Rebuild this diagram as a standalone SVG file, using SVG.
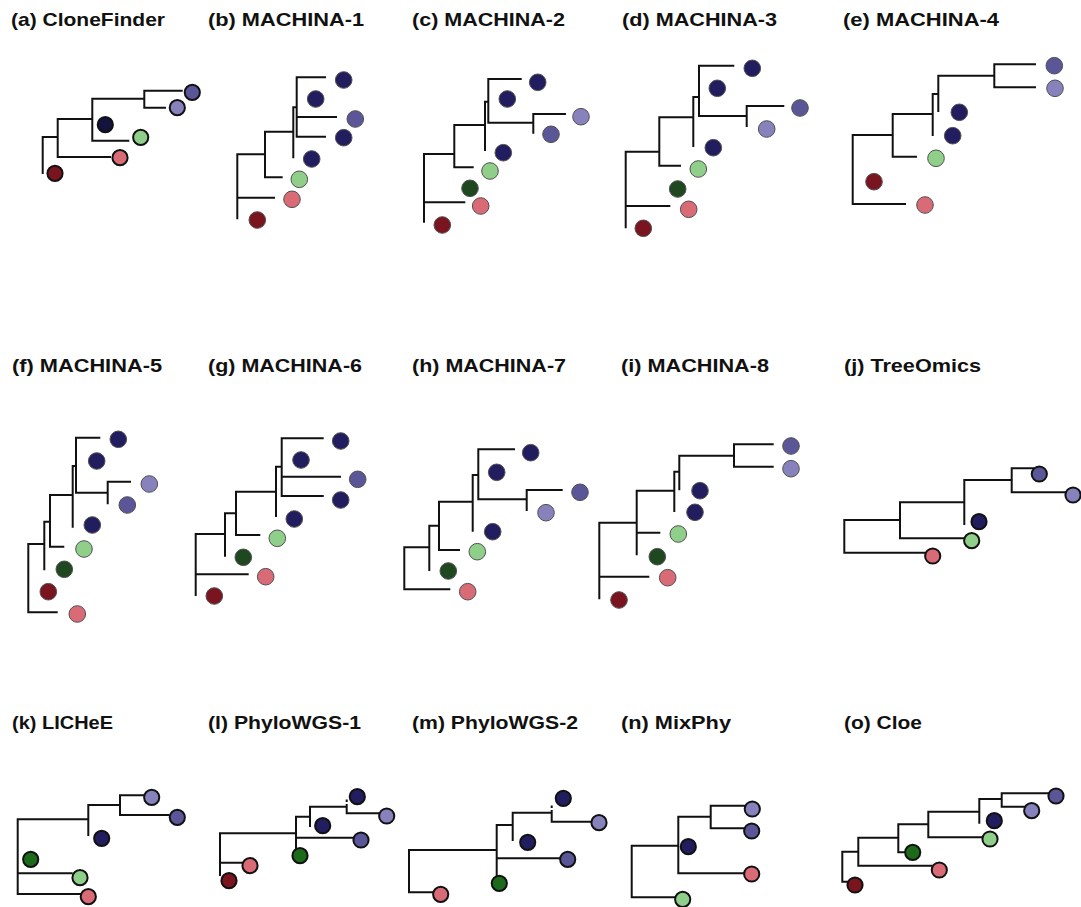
<svg xmlns="http://www.w3.org/2000/svg" width="1081" height="907" viewBox="0 0 1081 907">
<style>
  .t{font-family:"Liberation Sans",Arial,sans-serif;font-weight:bold;font-size:19px;fill:#111}
  .e{fill:none;stroke:#111;stroke-width:2;stroke-linecap:square}
  .thin circle{stroke:#505050;stroke-width:1}
  .thick circle{stroke:#111;stroke-width:2}
  .nv{fill:#221d5e}.mp{fill:#5b5698}.lp{fill:#8882bc}.lg{fill:#8fcf8a}
  .dg{fill:#1f4820}.dg2{fill:#1e6a1b}.pk{fill:#d86b75}.dr{fill:#7a1520}
  .thin circle{r:8.3px}.thick circle{r:7.6px}
</style>
<rect width="1081" height="907" fill="#fff"/>

<!-- (a) CloneFinder -->
<g id="panel-a" class="thick">
  <text class="t" x="11" y="26" textLength="154" lengthAdjust="spacingAndGlyphs">(a) CloneFinder</text>
  <g id="a-edges"><path class="e" d="M42.7 173V137H57.7 M110 157H57.7V119H92.3 M128.3 140.7H92.3V98.7H144.3 M165 107.7H144.3V90.7H181.7"/></g>
  <g id="a-n1"><circle class="dr" cx="55" cy="173.3" r="7.6"/></g>
  <g id="a-n2"><circle class="pk" cx="120" cy="157.7" r="7.6"/></g>
  <g id="a-n3"><circle class="lg" cx="140.7" cy="137.3" r="7.6"/></g>
  <g id="a-n4"><circle fill="#14133d" cx="105.3" cy="124.7" r="7.8"/></g>
  <g id="a-n5"><circle class="lp" cx="177.3" cy="107.7" r="7.6"/></g>
  <g id="a-n6"><circle class="mp" cx="192.3" cy="92.3" r="7.6"/></g>
</g>

<!-- (b) MACHINA-1 -->
<g id="panel-b" class="thin">
  <text class="t" x="208" y="26" textLength="156" lengthAdjust="spacingAndGlyphs">(b) MACHINA-1</text>
  <g id="b-edges"><path class="e" d="M237.3 218.3V154.3H265 M237.3 197.7H274 M281.7 177.3H265V131.7H293.3 M293.3 157.3V107.3H296.7 M325 77.3H296.7V136.7H325 M296.7 117H336"/></g>
  <g id="b-n1"><circle class="dr" cx="257.3" cy="220" r="8.3"/></g>
  <g id="b-n2"><circle class="pk" cx="292" cy="199.3" r="8.3"/></g>
  <g id="b-n3"><circle class="lg" cx="299.3" cy="179.3" r="8.3"/></g>
  <g id="b-n4"><circle class="nv" cx="311.7" cy="159" r="8.3"/></g>
  <g id="b-n5"><circle class="nv" cx="343.7" cy="137.7" r="8.3"/></g>
  <g id="b-n6"><circle class="mp" cx="355.3" cy="119" r="8.3"/></g>
  <g id="b-n7"><circle class="nv" cx="315.7" cy="99" r="8.3"/></g>
  <g id="b-n8"><circle class="nv" cx="343.7" cy="80" r="8.3"/></g>
</g>

<!-- (c) MACHINA-2 -->
<g id="panel-c" class="thin">
  <text class="t" x="412" y="26" textLength="153" lengthAdjust="spacingAndGlyphs">(c) MACHINA-2</text>
  <g id="c-edges"><path class="e" d="M424 221.7V154H454.3 M424 202.3H464.3 M472.7 167.3H454.3V125H485 M485 150V101.7H488.3 M520.7 79H488.3V122.7H533.3 M533.3 132.7V114H565"/></g>
  <g id="c-n1"><circle class="dr" cx="442.3" cy="225" r="8.3"/></g>
  <g id="c-n2"><circle class="pk" cx="480.7" cy="206" r="8.3"/></g>
  <g id="c-n3"><circle class="dg" cx="470" cy="188.3" r="8.3"/></g>
  <g id="c-n4"><circle class="lg" cx="490" cy="171" r="8.3"/></g>
  <g id="c-n5"><circle class="nv" cx="503.3" cy="152.7" r="8.3"/></g>
  <g id="c-n6"><circle class="mp" cx="551" cy="134.3" r="8.3"/></g>
  <g id="c-n7"><circle class="lp" cx="581" cy="116.7" r="8.3"/></g>
  <g id="c-n8"><circle class="nv" cx="507.3" cy="99" r="8.3"/></g>
  <g id="c-n9"><circle class="nv" cx="537.7" cy="82.3" r="8.3"/></g>
</g>

<!-- (d) MACHINA-3 -->
<g id="panel-d" class="thin">
  <text class="t" x="622" y="26" textLength="155" lengthAdjust="spacingAndGlyphs">(d) MACHINA-3</text>
  <g id="d-edges"><path class="e" d="M625.7 227.3V151.7H659.3 M625.7 206H669.3 M680 165.7H659.3V117.3H693.3 M693.3 146V97H699 M733.3 65.7H699V116H746.7 M746.7 126V106H783.3"/></g>
  <g id="d-n1"><circle class="dr" cx="643.3" cy="228.3" r="8.3"/></g>
  <g id="d-n2"><circle class="pk" cx="688.7" cy="209.3" r="8.3"/></g>
  <g id="d-n3"><circle class="dg" cx="677.7" cy="189" r="8.3"/></g>
  <g id="d-n4"><circle class="lg" cx="698.3" cy="169" r="8.3"/></g>
  <g id="d-n5"><circle class="nv" cx="713.3" cy="147.7" r="8.3"/></g>
  <g id="d-n6"><circle class="lp" cx="766.7" cy="129" r="8.3"/></g>
  <g id="d-n7"><circle class="mp" cx="800" cy="108" r="8.3"/></g>
  <g id="d-n8"><circle class="nv" cx="717.3" cy="88.3" r="8.3"/></g>
  <g id="d-n9"><circle class="nv" cx="752.3" cy="68.3" r="8.3"/></g>
</g>

<!-- (e) MACHINA-4 -->
<g id="panel-e" class="thin">
  <text class="t" x="843" y="26" textLength="156" lengthAdjust="spacingAndGlyphs">(e) MACHINA-4</text>
  <g id="e-edges"><path class="e" d="M852.7 204V135H892.7 M852.7 204H905 M916 156.7H892.7V114H932.7 M932.7 135V94H938.3 M938.3 111V75.7H994.3 M1035 64.3H994.3V87.3H1035"/></g>
  <g id="e-n1"><circle class="dr" cx="874" cy="181.7" r="8.3"/></g>
  <g id="e-n2"><circle class="pk" cx="925" cy="205" r="8.3"/></g>
  <g id="e-n3"><circle class="lg" cx="936" cy="158.3" r="8.3"/></g>
  <g id="e-n4"><circle class="nv" cx="952.7" cy="135.7" r="8.3"/></g>
  <g id="e-n5"><circle class="nv" cx="959.3" cy="112.3" r="8.3"/></g>
  <g id="e-n6"><circle class="mp" cx="1054.3" cy="65.7" r="8.3"/></g>
  <g id="e-n7"><circle class="lp" cx="1055" cy="88.3" r="8.3"/></g>
</g>

<!-- (f) MACHINA-5 -->
<g id="panel-f" class="thin">
  <text class="t" x="12" y="372" textLength="150" lengthAdjust="spacingAndGlyphs">(f) MACHINA-5</text>
  <g id="f-edges"><path class="e" d="M28.3 612.3V544H44.3 M28.3 612.3H56.7 M44.3 569.3V521.7H50 M63.3 546.7H50V495H72.7 M72.7 526.7V466H76 M99.3 437.7H76V492.7H107.7 M107.7 503.3V481.7H130"/></g>
  <g id="f-n1"><circle class="dr" cx="48.3" cy="591.7" r="8.3"/></g>
  <g id="f-n2"><circle class="pk" cx="77.3" cy="614" r="8.3"/></g>
  <g id="f-n3"><circle class="dg" cx="64.3" cy="569.3" r="8.3"/></g>
  <g id="f-n4"><circle class="lg" cx="84" cy="549" r="8.3"/></g>
  <g id="f-n5"><circle class="nv" cx="92.3" cy="525" r="8.3"/></g>
  <g id="f-n6"><circle class="mp" cx="127.3" cy="505" r="8.3"/></g>
  <g id="f-n7"><circle class="lp" cx="149.3" cy="484" r="8.3"/></g>
  <g id="f-n8"><circle class="nv" cx="96.7" cy="461" r="8.3"/></g>
  <g id="f-n9"><circle class="nv" cx="118.3" cy="439.3" r="8.3"/></g>
</g>

<!-- (g) MACHINA-6 -->
<g id="panel-g" class="thin">
  <text class="t" x="208" y="372" textLength="154" lengthAdjust="spacingAndGlyphs">(g) MACHINA-6</text>
  <g id="g-edges"><path class="e" d="M195.7 595V534H225 M195.7 574.3H247.7 M225 555.7V513.3H236 M259.3 535H236V491.7H276 M276 516V466.7H281.7 M322.7 438.3H281.7V496H322.7 M281.7 476.7H340"/></g>
  <g id="g-n1"><circle class="dr" cx="214.3" cy="596" r="8.3"/></g>
  <g id="g-n2"><circle class="pk" cx="265.7" cy="576.7" r="8.3"/></g>
  <g id="g-n3"><circle class="dg" cx="243.3" cy="557.3" r="8.3"/></g>
  <g id="g-n4"><circle class="lg" cx="277.3" cy="538.3" r="8.3"/></g>
  <g id="g-n5"><circle class="nv" cx="294.3" cy="519" r="8.3"/></g>
  <g id="g-n6"><circle class="nv" cx="340.7" cy="500" r="8.3"/></g>
  <g id="g-n7"><circle class="mp" cx="357.7" cy="479.3" r="8.3"/></g>
  <g id="g-n8"><circle class="nv" cx="301" cy="460" r="8.3"/></g>
  <g id="g-n9"><circle class="nv" cx="340.7" cy="441" r="8.3"/></g>
</g>

<!-- (h) MACHINA-7 -->
<g id="panel-h" class="thin">
  <text class="t" x="412" y="372" textLength="154" lengthAdjust="spacingAndGlyphs">(h) MACHINA-7</text>
  <g id="h-edges"><path class="e" d="M404.3 589.3V547.3H429.3 M404.3 589.3H449.3 M429.3 570V525.7H439 M459 550H439V501.7H472.7 M472.7 530.7V475H478.3 M514 449.3H478.3V499.3H526.7 M526.7 510V490H561.7"/></g>
  <g id="h-n1"><circle class="pk" cx="467.7" cy="591.7" r="8.3"/></g>
  <g id="h-n2"><circle class="dg" cx="448.3" cy="571" r="8.3"/></g>
  <g id="h-n3"><circle class="lg" cx="477.3" cy="551.7" r="8.3"/></g>
  <g id="h-n4"><circle class="nv" cx="492.7" cy="531.7" r="8.3"/></g>
  <g id="h-n5"><circle class="lp" cx="546" cy="512.7" r="8.3"/></g>
  <g id="h-n6"><circle class="mp" cx="580" cy="492.3" r="8.3"/></g>
  <g id="h-n7"><circle class="nv" cx="496.7" cy="472.3" r="8.3"/></g>
  <g id="h-n8"><circle class="nv" cx="530.7" cy="452.7" r="8.3"/></g>
</g>

<!-- (i) MACHINA-8 -->
<g id="panel-i" class="thin">
  <text class="t" x="621" y="372" textLength="148" lengthAdjust="spacingAndGlyphs">(i) MACHINA-8</text>
  <g id="i-edges"><path class="e" d="M599.3 598.3V522.7H636.7 M599.3 576.7H648.3 M659.3 532.7H636.7 M636.7 554.3V490.7H674.3 M674.3 511V471.7H679.3 M679.3 489.3V455.7H734 M772.7 444.3H734V466.7H772.7"/></g>
  <g id="i-n1"><circle class="dr" cx="619" cy="600" r="8.3"/></g>
  <g id="i-n2"><circle class="pk" cx="667.7" cy="577.7" r="8.3"/></g>
  <g id="i-n3"><circle class="dg" cx="657.3" cy="556.7" r="8.3"/></g>
  <g id="i-n4"><circle class="lg" cx="678.3" cy="534" r="8.3"/></g>
  <g id="i-n5"><circle class="nv" cx="695" cy="512.3" r="8.3"/></g>
  <g id="i-n6"><circle class="nv" cx="700" cy="490.7" r="8.3"/></g>
  <g id="i-n7"><circle class="mp" cx="791" cy="446" r="8.3"/></g>
  <g id="i-n8"><circle class="lp" cx="791" cy="468.7" r="8.3"/></g>
</g>

<!-- (j) TreeOmics -->
<g id="panel-j" class="thick">
  <text class="t" x="844" y="372" textLength="137" lengthAdjust="spacingAndGlyphs">(j) TreeOmics</text>
  <g id="j-edges"><path class="e" d="M844.3 520V552.7H926.7 M844.3 520H900 M965 538.3H900V502.3H964.3 M964.3 524V480H1011.7 M1033.3 468.3H1011.7V492.3H1066.7"/></g>
  <g id="j-n1"><circle class="pk" cx="932.7" cy="556" r="7.6"/></g>
  <g id="j-n2"><circle class="lg" cx="971.7" cy="540.7" r="7.6"/></g>
  <g id="j-n3"><circle class="nv" cx="979" cy="521.7" r="7.6"/></g>
  <g id="j-n4"><circle class="mp" cx="1039.3" cy="474" r="7.6"/></g>
  <g id="j-n5"><circle class="lp" cx="1073" cy="495" r="7.6"/></g>
</g>

<!-- (k) LICHeE -->
<g id="panel-k" class="thick">
  <text class="t" x="12" y="729" textLength="101" lengthAdjust="spacingAndGlyphs">(k) LICHeE</text>
  <g id="k-edges"><path class="e" d="M17.7 819.3V894H80 M17.7 873.3H71.7 M17.7 819.3H88.3 M88.3 835V805H120 M143.3 795.3H120V815H168.3"/></g>
  <g id="k-n1"><circle class="dg2" cx="30.7" cy="859.3" r="7.6"/></g>
  <g id="k-n2"><circle class="lg" cx="80" cy="877.7" r="7.6"/></g>
  <g id="k-n3"><circle class="pk" cx="88.3" cy="896.7" r="7.6"/></g>
  <g id="k-n4"><circle class="nv" cx="101.7" cy="838.3" r="7.6"/></g>
  <g id="k-n5"><circle class="lp" cx="151.7" cy="797.3" r="7.6"/></g>
  <g id="k-n6"><circle class="mp" cx="177.3" cy="817.3" r="7.6"/></g>
</g>

<!-- (l) PhyloWGS-1 -->
<g id="panel-l" class="thick">
  <text class="t" x="208" y="729" textLength="153" lengthAdjust="spacingAndGlyphs">(l) PhyloWGS-1</text>
  <g id="l-edges"><path class="e" d="M220 875V833.3H296 M220 862.7H242.7 M296 850V816.7H310 M296 837.7H353.3 M310 826V806.7H346.7 M346.7 805V813.3H379.3 M346.7 800.5V801"/></g>
  <g id="l-n1"><circle class="dr" cx="229" cy="880.7" r="7.6"/></g>
  <g id="l-n2"><circle class="pk" cx="250" cy="865.7" r="7.6"/></g>
  <g id="l-n3"><circle class="dg2" cx="300" cy="855.7" r="7.6"/></g>
  <g id="l-n4"><circle class="nv" cx="322.7" cy="825.7" r="7.6"/></g>
  <g id="l-n5"><circle class="mp" cx="361" cy="840" r="7.6"/></g>
  <g id="l-n6"><circle class="lp" cx="386.7" cy="816" r="7.6"/></g>
  <g id="l-n7"><circle class="nv" cx="357.3" cy="796.7" r="7.6"/></g>
</g>

<!-- (m) PhyloWGS-2 -->
<g id="panel-m" class="thick">
  <text class="t" x="412" y="729" textLength="166" lengthAdjust="spacingAndGlyphs">(m) PhyloWGS-2</text>
  <g id="m-edges"><path class="e" d="M409 892.3V850H496.7 M409 892.3H433.3 M496.7 878.3V825H512.7 M496.7 858.3H560 M512.7 840V812.7H551.7 M551.7 811V821.7H591.7 M551.7 806.5V807"/></g>
  <g id="m-n1"><circle class="pk" cx="440.7" cy="894.3" r="7.6"/></g>
  <g id="m-n2"><circle class="dg2" cx="499.3" cy="883.3" r="7.6"/></g>
  <g id="m-n3"><circle class="mp" cx="567.7" cy="859.3" r="7.6"/></g>
  <g id="m-n4"><circle class="nv" cx="527.7" cy="842.3" r="7.6"/></g>
  <g id="m-n5"><circle class="lp" cx="599" cy="822.7" r="7.6"/></g>
  <g id="m-n6"><circle class="nv" cx="563.3" cy="798.3" r="7.6"/></g>
</g>

<!-- (n) MixPhy -->
<g id="panel-n" class="thick">
  <text class="t" x="621" y="729" textLength="110" lengthAdjust="spacingAndGlyphs">(n) MixPhy</text>
  <g id="n-edges"><path class="e" d="M631.7 897.3V845.7H678.3 M631.7 897.3H675 M678.3 873.3V816.7H710.7 M678.3 873.3H745 M745 805.7H710.7V828.3H745"/></g>
  <g id="n-n1"><circle class="lg" cx="682.7" cy="899.3" r="7.6"/></g>
  <g id="n-n2"><circle class="pk" cx="751.7" cy="874" r="7.6"/></g>
  <g id="n-n3"><circle class="nv" cx="688.3" cy="846.7" r="7.6"/></g>
  <g id="n-n4"><circle class="mp" cx="751.7" cy="831" r="7.6"/></g>
  <g id="n-n5"><circle class="lp" cx="752.3" cy="809" r="7.6"/></g>
</g>

<!-- (o) Cloe -->
<g id="panel-o" class="thick">
  <text class="t" x="844" y="729" textLength="78" lengthAdjust="spacingAndGlyphs">(o) Cloe</text>
  <g id="o-edges"><path class="e" d="M848.3 881.7H842.3V851.7H858.3 M858.3 865.7H931.7 M858.3 865.7V837.7H898.3 M906 852.3H898.3V824.3H928.3 M981.7 837.3H928.3V811.7H979.3 M979.3 822.7V799H1001.7 M1048.3 793.3H1001.7V806.7H1025"/></g>
  <g id="o-n1"><circle class="dr" cx="855" cy="885" r="7.6"/></g>
  <g id="o-n2"><circle class="pk" cx="939.3" cy="870" r="7.6"/></g>
  <g id="o-n3"><circle class="dg2" cx="912.7" cy="852.3" r="7.6"/></g>
  <g id="o-n4"><circle class="lg" cx="990" cy="839" r="7.6"/></g>
  <g id="o-n5"><circle class="nv" cx="994.3" cy="820.7" r="7.6"/></g>
  <g id="o-n6"><circle class="lp" cx="1031.7" cy="810.7" r="7.6"/></g>
  <g id="o-n7"><circle class="mp" cx="1056" cy="796" r="7.6"/></g>
</g>
</svg>
